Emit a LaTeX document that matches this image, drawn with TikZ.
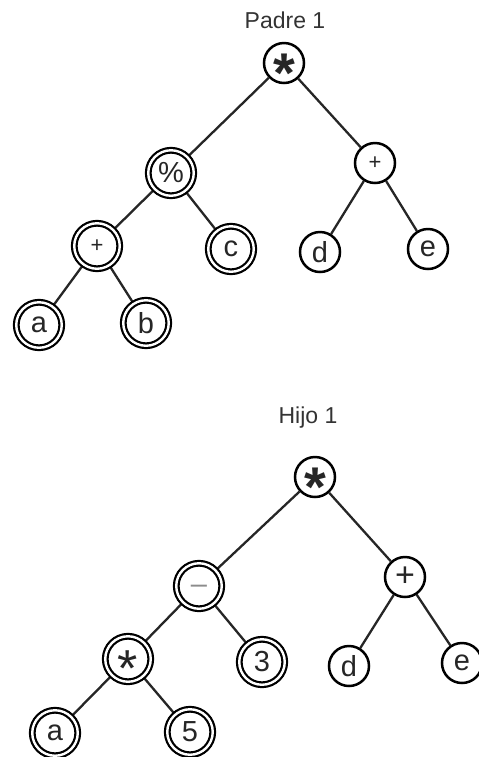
\documentclass[tikz,border=0pt]{standalone}
\usepackage{fontspec}
\setmainfont{Liberation Sans}
\usetikzlibrary{backgrounds}

% asterisk pulled down onto the node centre
\newcommand{\opstar}{\smash{\raisebox{-0.53em}{*}}}
\newcommand{\opminus}{\smash{\raisebox{-0.27em}{--}}}

\begin{document}
\begin{tikzpicture}[
  x=0.5pt, y=-0.5pt,
  font=\fontsize{14.5}{14.5}\selectfont,
  edge/.style={line width=1.15pt, black!85},
  ring/.style={circle, draw, fill=white, line width=1.25pt, minimum size=20pt, inner sep=0pt, text=black!85},
  dring/.style={circle, draw, fill=white, double, double distance=1.2pt, line width=1.1pt, minimum size=22.75pt, inner sep=0pt, text=black!85},
  title/.style={font=\fontsize{11.5}{11.5}\selectfont, text=black!80},
  bigop/.style={font=\fontsize{28}{28}\selectfont\bfseries},
  smallop/.style={font=\fontsize{11}{11}\selectfont}
]
\useasboundingbox (0,0) rectangle (478,757);

% -- Padre 1
\node[title] (t1) at (285,20) {Padre 1};
\node[ring, bigop]   (p-root)  at (284,63)  {\opstar};
\node[dring]         (p-mod)   at (171,173) {\%};
\node[ring, smallop] (p-plusr) at (375,163) {+};
\node[dring, smallop](p-plusl) at (97,246)  {+};
\node[dring]         (p-c)     at (231,249) {c};
\node[ring]          (p-d)     at (320,252) {d};
\node[ring]          (p-e)     at (428,249) {e};
\node[dring]         (p-a)     at (39,325)  {a};
\node[dring]         (p-b)     at (146,323) {b};

% -- Hijo 1
\node[title] (t2) at (308,418) {Hijo 1};
\node[ring, bigop]   (h-root)  at (315,477) {\opstar};
\node[dring, text=black!45] (h-minus) at (199,586) {\opminus};
\node[ring, font=\fontsize{17}{17}\selectfont] (h-plus) at (405,577) {+};
\node[dring, font=\fontsize{26}{26}\selectfont] (h-times) at (128,659) {\opstar};
\node[dring]         (h-three) at (262,662) {3};
\node[ring]          (h-d)     at (349,666) {d};
\node[ring]          (h-e)     at (462,663) {e};
\node[dring]         (h-a)     at (55,733)  {a};
\node[dring]         (h-five)  at (190,732) {5};

% -- branches, kept under the circles
\begin{scope}[on background layer]
\foreach \u/\v in {p-root/p-mod, p-root/p-plusr, p-mod/p-plusl, p-mod/p-c,
                   p-plusr/p-d, p-plusr/p-e, p-plusl/p-a, p-plusl/p-b,
                   h-root/h-minus, h-root/h-plus, h-minus/h-times, h-minus/h-three,
                   h-plus/h-d, h-plus/h-e, h-times/h-a, h-times/h-five}
  \draw[edge] (\u) -- (\v);
\end{scope}
\end{tikzpicture}
\end{document}
